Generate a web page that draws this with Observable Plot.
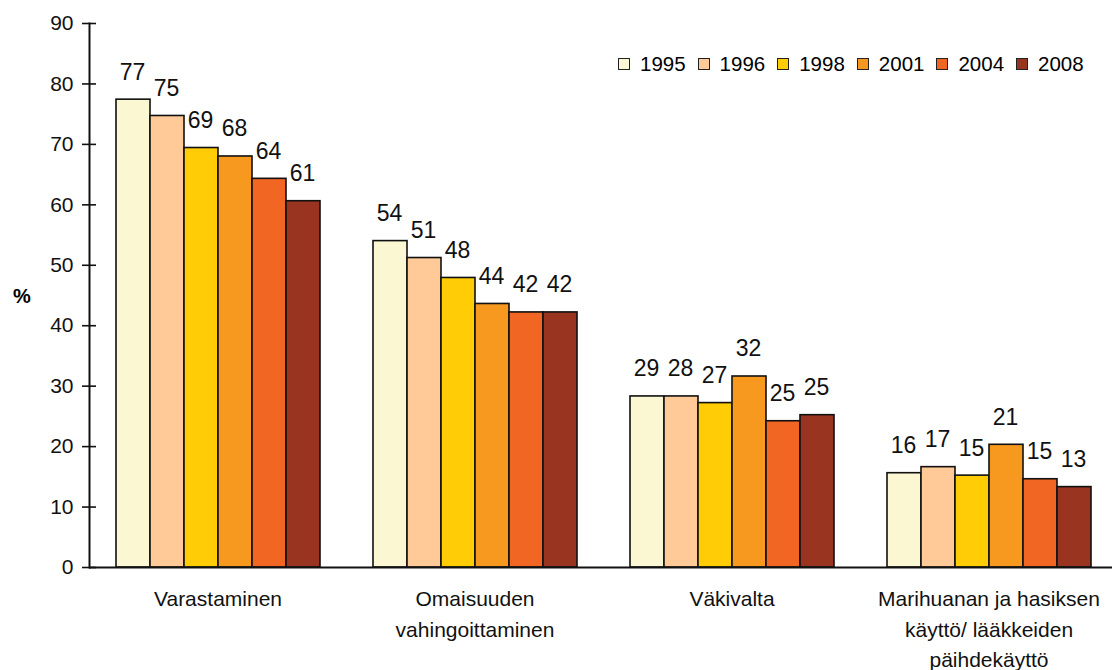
<!DOCTYPE html>
<html>
<head>
<meta charset="utf-8">
<script src="https://cdn.jsdelivr.net/npm/d3@7"></script>
<script src="https://cdn.jsdelivr.net/npm/@observablehq/plot@0.6"></script>
<style>
  body { margin: 0; background: #fff; font-family: "Liberation Sans", Arial, sans-serif; }
  #wrap { position: relative; width: 1112px; height: 670px; }
  #legend { position: absolute; left: 618px; top: 52px; display: flex; align-items: center; font-size: 20.5px; color: #000; }
  #legend .item { display: flex; align-items: center; margin-right: 12px; }
  #legend .sw { width: 10px; height: 10px; border: 1.5px solid #222; margin-right: 10px; }
  #pct { position: absolute; left: 13px; top: 285px; font-size: 20px; font-weight: bold; }
</style>
</head>
<body>
<div id="wrap">
  <div id="chart"></div>
  <div id="legend"></div>
  <div id="pct">%</div>
</div>
<script>
const categories = [
  "Varastaminen",
  "Omaisuuden\nvahingoittaminen",
  "Väkivalta",
  "Marihuanan ja hasiksen\nkäyttö/ lääkkeiden\npäihdekäyttö"
];
const years = ["1995", "1996", "1998", "2001", "2004", "2008"];
const colors = ["#FBF7D2", "#FFCA98", "#FFCC05", "#F7981F", "#F26624", "#983420"];

// bar heights per year (one value per category)
const values1995 = [77.4, 54.0, 28.3, 15.6];
const values1996 = [74.7, 51.2, 28.3, 16.6];
const values1998 = [69.4, 47.9, 27.2, 15.2];
const values2001 = [68.0, 43.6, 31.6, 20.3];
const values2004 = [64.3, 42.2, 24.2, 14.6];
const values2008 = [60.6, 42.2, 25.2, 13.3];

// printed labels per year
const labels1995 = [77, 54, 29, 16];
const labels1996 = [75, 51, 28, 17];
const labels1998 = [69, 48, 27, 15];
const labels2001 = [68, 44, 32, 21];
const labels2004 = [64, 42, 25, 15];
const labels2008 = [61, 42, 25, 13];

const yTicks = [0, 10, 20, 30, 40, 50, 60, 70, 80, 90];

const seriesValues = [values1995, values1996, values1998, values2001, values2004, values2008];
const seriesLabels = [labels1995, labels1996, labels1998, labels2001, labels2004, labels2008];

const data = [];
years.forEach((year, j) => {
  categories.forEach((cat, i) => {
    data.push({cat, year, value: seriesValues[j][i], label: String(seriesLabels[j][i])});
  });
});

const font = '"Liberation Sans", Arial, sans-serif';

const chart = Plot.plot({
  width: 1112,
  height: 670,
  marginTop: 23,
  marginBottom: 103,
  marginLeft: 89,
  marginRight: -5,
  style: { fontFamily: font, color: "#000", background: "transparent", overflow: "visible" },
  fx: { domain: categories, padding: 0, label: null },
  x: { domain: years, paddingInner: 0, paddingOuter: 0.74, axis: null },
  y: { domain: [0, 90], label: null },
  color: { domain: years, range: colors },
  marks: [
    Plot.barY(data, { fx: "cat", x: "year", y: "value", fill: "year", stroke: "#111", strokeWidth: 1.6 }),
    Plot.text(data, { fx: "cat", x: "year", y: "value", text: "label", dy: -20, dx: -1, lineAnchor: "bottom", fontSize: 23, fill: "#111" }),
    Plot.ruleY([0], { stroke: "#111", strokeWidth: 2 }),
    Plot.frame({ anchor: "left", facetAnchor: "left", stroke: "#111", strokeWidth: 2 }),
    Plot.axisY({ ticks: yTicks, tickSize: 14, dx: 7, tickFormat: () => "", stroke: "#111", strokeWidth: 1.6 }),
    Plot.axisY({ ticks: yTicks, tickSize: 0, tickPadding: 16, fontSize: 21, fill: "#111" }),
    Plot.axisFx({ anchor: "bottom", tickSize: 0, tickPadding: 17, lineHeight: 1.45, fontSize: 21, fill: "#111", label: null })
  ]
});

document.getElementById("chart").appendChild(chart);

const legend = document.getElementById("legend");
years.forEach((y, j) => {
  const item = document.createElement("div");
  item.className = "item";
  const sw = document.createElement("div");
  sw.className = "sw";
  sw.style.background = colors[j];
  const t = document.createElement("span");
  t.textContent = y;
  item.appendChild(sw);
  item.appendChild(t);
  legend.appendChild(item);
});
</script>
</body>
</html>
